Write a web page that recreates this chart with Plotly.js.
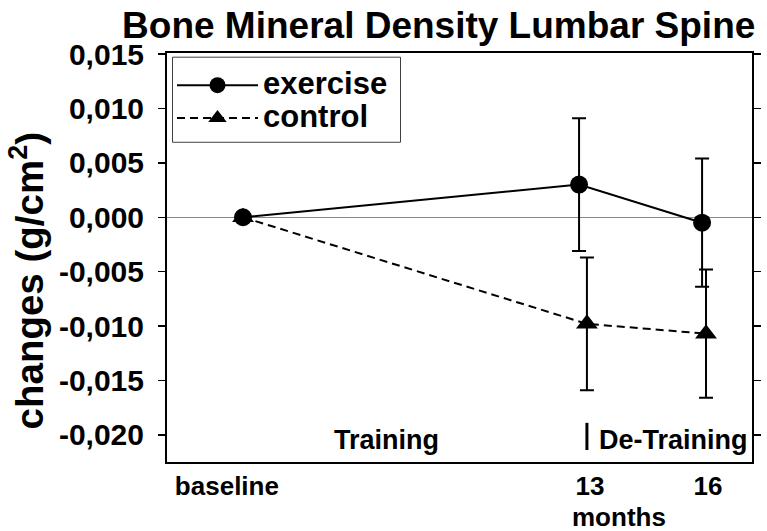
<!DOCTYPE html>
<html>
<head>
<meta charset="utf-8">
<script src="https://cdn.plot.ly/plotly-3.0.1.min.js"></script>
<style>
html, body { margin: 0; padding: 0; background: #fff; }
#chart { width: 767px; height: 531px; }
</style>
</head>
<body>
<div id="chart"></div>
<script>
// ---- data ----
const timepointLabels = ['baseline', '13', '16'];
const timepointTickX = [-0.41, 8.83, 11.83];
const exerciseX = [0, 8.55, 11.68];
const controlX = [0, 8.75, 11.78];
const exerciseY = [0, 0.0030, -0.0005];
const exerciseErr = [0, 0.0061, 0.0059];
const controlY = [0, -0.0098, -0.0107];
const controlErr = [0, 0.0061, 0.0059];
const yTickVals = [-0.020, -0.015, -0.010, -0.005, 0.000, 0.005, 0.010, 0.015];
const yTickText = ['-0,020', '-0,015', '-0,010', '-0,005', '0,000', '0,005', '0,010', '0,015'];
const seriesNames = ['exercise', 'control'];
const phaseLabels = ['Training', 'De-Training'];
const phaseLabelX = [3.66, 10.94];
const phaseBoundaryX = 8.75;
const titleText = 'Bone Mineral Density Lumbar Spine';
const yTitleText = 'changes (g/cm<sup>2</sup>)';
const xTitleText = 'months';

const FONT = 'Liberation Sans, Arial, Helvetica, sans-serif';
const legendLabel = s => '<span style="font-size:31px">' + s + '</span>';

// plot area geometry (pixels) used to place paper-referenced decorations
const PLOT_L = 167, PLOT_R = 752, PLOT_T = 53.3, PLOT_B = 462;
const px2x = p => (p - PLOT_L) / (PLOT_R - PLOT_L);
const px2y = p => (PLOT_B - p) / (PLOT_B - PLOT_T);

const traces = [
  {
    x: exerciseX, y: exerciseY, name: legendLabel(seriesNames[0]),
    type: 'scatter', mode: 'lines+markers',
    line: { color: '#000', width: 2 },
    marker: { symbol: 'circle', size: 18, color: '#000' },
    error_y: { type: 'data', array: exerciseErr, visible: true, color: '#000', thickness: 2, width: 7 }
  },
  {
    x: controlX, y: controlY, name: legendLabel(seriesNames[1]),
    type: 'scatter', mode: 'lines+markers',
    line: { color: '#000', width: 2, dash: '8px,5px' },
    marker: { symbol: 'triangle-up', size: 19, color: '#000' },
    error_y: { type: 'data', array: controlErr, visible: true, color: '#000', thickness: 2, width: 7 }
  }
];

const layout = {
  width: 767, height: 531,
  margin: { l: 167, r: 15, t: 53, b: 69, pad: 0 },
  paper_bgcolor: '#fff', plot_bgcolor: '#fff',
  font: { family: FONT, color: '#000', weight: 'bold' },
  title: {
    text: titleText,
    font: { family: FONT, size: 37, color: '#000', weight: 'bold' },
    x: 0.572, xanchor: 'center', xref: 'container',
    y: 0.952, yanchor: 'middle', yref: 'container'
  },
  showlegend: true,
  legend: {
    x: px2x(172), y: px2y(64), xanchor: 'left', yanchor: 'top',
    bgcolor: 'rgba(0,0,0,0)', borderwidth: 0,
    font: { family: FONT, size: 23, color: '#000', weight: 'bold' },
    itemwidth: 81
  },
  xaxis: {
    range: [-1.934, 12.95],
    showline: true, linecolor: '#000', linewidth: 2, mirror: true,
    ticks: '', showgrid: false, zeroline: false,
    tickmode: 'array', tickvals: timepointTickX, ticktext: timepointLabels,
    tickfont: { family: FONT, size: 26, color: '#000', weight: 'bold' },
    fixedrange: true
  },
  yaxis: {
    range: [-0.0225, 0.0151],
    showline: true, linecolor: '#000', linewidth: 2, mirror: 'ticks',
    ticks: 'outside', ticklen: 7, tickwidth: 1.5, tickcolor: '#000',
    showgrid: false,
    zeroline: true, zerolinecolor: '#888', zerolinewidth: 1,
    tickmode: 'array', tickvals: yTickVals, ticktext: yTickText,
    tickfont: { family: FONT, size: 30, color: '#000', weight: 'bold' },
    ticklabelstandoff: 8,
    fixedrange: true
  },
  shapes: [
    { type: 'line', xref: 'x', yref: 'y', x0: phaseBoundaryX, x1: phaseBoundaryX,
      y0: -0.0189, y1: -0.0214, line: { color: '#000', width: 3 } },
    { type: 'rect', xref: 'paper', yref: 'paper', layer: 'above',
      x0: px2x(172.5), x1: px2x(400.5), y0: px2y(142.5), y1: px2y(57.5),
      fillcolor: '#fff', line: { color: '#404040', width: 1 } }
  ],
  annotations: [
    { text: phaseLabels[0], xref: 'x', yref: 'y', x: phaseLabelX[0], y: -0.0205,
      showarrow: false, xanchor: 'center', yanchor: 'middle',
      font: { family: FONT, size: 27, color: '#000', weight: 'bold' } },
    { text: phaseLabels[1], xref: 'x', yref: 'y', x: phaseLabelX[1], y: -0.0205,
      showarrow: false, xanchor: 'center', yanchor: 'middle',
      font: { family: FONT, size: 27, color: '#000', weight: 'bold' } },
    { text: xTitleText, xref: 'paper', yref: 'paper', x: px2x(619), y: px2y(517),
      showarrow: false, xanchor: 'center', yanchor: 'middle',
      font: { family: FONT, size: 26, color: '#000', weight: 'bold' } },
    { text: yTitleText, xref: 'paper', yref: 'paper', x: -0.24, y: 0.443,
      showarrow: false, xanchor: 'center', yanchor: 'middle', textangle: -90,
      font: { family: FONT, size: 38.5, color: '#000', weight: 'bold' } }
  ]
};

Plotly.newPlot('chart', traces, layout, { displayModeBar: false, staticPlot: true });
</script>
</body>
</html>
